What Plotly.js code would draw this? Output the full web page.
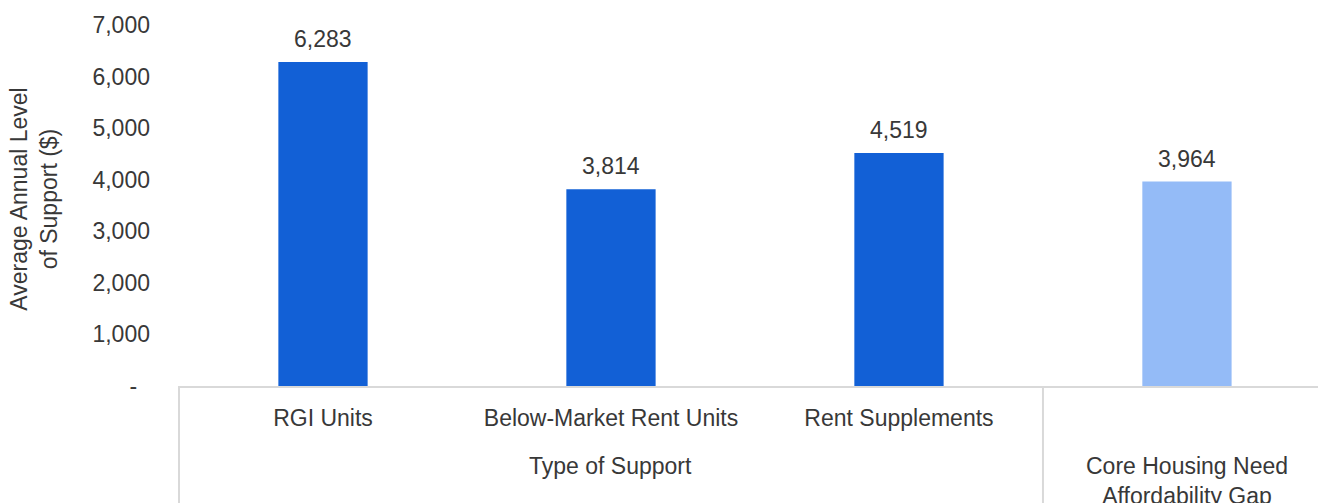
<!DOCTYPE html>
<html>
<head>
<meta charset="utf-8">
<script src="https://cdn.plot.ly/plotly-3.0.1.min.js"></script>
<style>html,body{margin:0;padding:0;background:#fff;}#chart{width:1318px;height:503px;}</style>
</head>
<body>
<div id="chart"></div>
<script>
var categories = ["RGI Units", "Below-Market Rent Units", "Rent Supplements", "Core Housing Need Affordability Gap"];
var innerLabels = ["RGI Units", "Below-Market Rent Units", "Rent Supplements", ""];
var groupLabels = ["Type of Support", "Core Housing Need<br>Affordability Gap"];
var groupCenters = [1, 3];      // category index at the centre of each group
var groupBoundaries = [2.5];    // between the two groups
var values = [6283, 3814, 4519, 3964];
var barColors = ["#1260D6", "#1260D6", "#1260D6", "#94BBF7"];
var yTickVals = [0, 1000, 2000, 3000, 4000, 5000, 6000, 7000];
var yTickText = ["-\u00a0\u00a0", "1,000", "2,000", "3,000", "4,000", "5,000", "6,000", "7,000"];
var yTitle = "Average Annual Level<br>of Support ($)";

var FONT = "Liberation Sans, Arial, sans-serif";
var TXT = "#383838";
var LINE = "#d9d9d9";

var trace = {
  type: "bar",
  x: categories,
  y: values,
  width: 0.31,
  marker: {color: barColors},
  hoverinfo: "none"
};

var annotations = values.map(function(v, i) {
  return {
    xref: "x", yref: "y", x: categories[i], y: v,
    text: v.toLocaleString("en-US"),
    showarrow: false, yanchor: "bottom", yshift: 8,
    font: {family: FONT, size: 23, color: TXT}
  };
});
groupLabels.forEach(function(g, i) {
  annotations.push({
    xref: "x", yref: "paper", x: groupCenters[i], y: -0.179,
    text: g, showarrow: false, xanchor: "center", yanchor: "top",
    font: {family: FONT, size: 23, color: TXT}
  });
});
annotations.push({
  xref: "paper", yref: "paper", x: -0.128, y: 0.5, yshift: 6,
  text: yTitle, textangle: -90, showarrow: false,
  xanchor: "center", yanchor: "middle",
  font: {family: FONT, size: 23, color: TXT}
});

var shapes = [{
  type: "line", xref: "paper", yref: "paper", x0: 0, x1: 0, y0: 0, y1: -1,
  line: {color: LINE, width: 2}
}];
groupBoundaries.forEach(function(b) {
  shapes.push({
    type: "line", xref: "x", yref: "paper", x0: b, x1: b, y0: 0, y1: -1,
    line: {color: LINE, width: 2}
  });
});

var layout = {
  width: 1318, height: 503,
  margin: {l: 179, r: 0, t: 25, b: 117},
  paper_bgcolor: "#ffffff", plot_bgcolor: "#ffffff",
  showlegend: false,
  font: {family: FONT, size: 23, color: TXT},
  xaxis: {
    type: "category",
    range: [-0.5, 3.455],
    tickvals: categories, ticktext: innerLabels,
    showline: true, linecolor: LINE, linewidth: 2,
    showgrid: false, zeroline: false,
    ticks: "", ticklabelstandoff: 10,
    tickfont: {family: FONT, size: 23, color: TXT}
  },
  yaxis: {
    range: [0, 7000],
    tickvals: yTickVals, ticktext: yTickText,
    showgrid: false, zeroline: false, showline: false,
    ticks: "", ticklabelstandoff: 28,
    tickfont: {family: FONT, size: 23, color: TXT}
  },
  annotations: annotations,
  shapes: shapes
};

Plotly.newPlot("chart", [trace], layout, {displayModeBar: false, staticPlot: true});
</script>
</body>
</html>
